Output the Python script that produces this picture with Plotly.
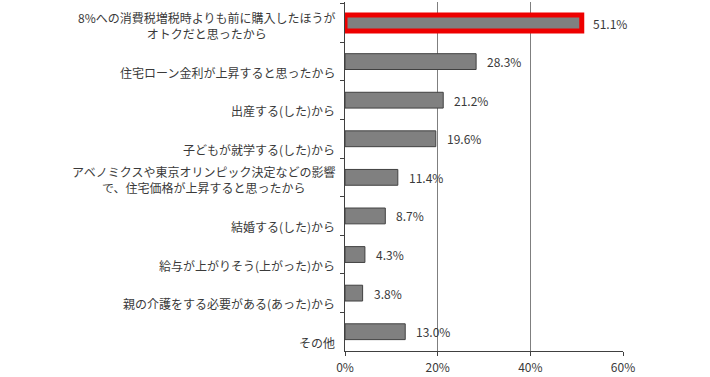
import plotly.graph_objects as go

categories = [
    "8%への消費税増税時よりも前に購入したほうが<br>オトクだと思ったから",
    "住宅ローン金利が上昇すると思ったから",
    "出産する(した)から",
    "子どもが就学する(した)から",
    "アベノミクスや東京オリンピック決定などの影響<br>で、住宅価格が上昇すると思ったから",
    "結婚する(した)から",
    "給与が上がりそう(上がった)から",
    "親の介護をする必要がある(あった)から",
    "その他",
]
values = [51.1, 28.3, 21.2, 19.6, 11.4, 8.7, 4.3, 3.8, 13.0]
value_labels = ["51.1%", "28.3%", "21.2%", "19.6%", "11.4%", "8.7%", "4.3%", "3.8%", "13.0%"]
highlight = [True] + [False] * 8

FONT = "Noto Sans CJK JP, Noto Sans, sans-serif"
TXT = "#3a3a3a"

line_colors = ["#ee0000" if h else "#404040" for h in highlight]
line_widths = [5 if h else 1 for h in highlight]

fig = go.Figure(
    go.Bar(
        x=values,
        y=categories,
        orientation="h",
        width=0.41,
        marker=dict(color="#808080", line=dict(color=line_colors, width=line_widths)),
        hoverinfo="skip",
    )
)

annotations = []
for c, v, t in zip(categories, values, value_labels):
    annotations.append(dict(
        x=v, y=c, xref="x", yref="y", text=t, showarrow=False,
        xanchor="left", yanchor="middle", xshift=9,
        font=dict(family=FONT, size=12, color=TXT),
    ))
    annotations.append(dict(
        x=0, y=c, xref="paper", yref="y", text=c, showarrow=False,
        xanchor="right", yanchor="bottom", align="center", xshift=-8, yshift=-21,
        font=dict(family=FONT, size=12, color=TXT),
    ))

fig.update_layout(
    width=710, height=377,
    margin=dict(l=345, r=87, t=2, b=20),
    paper_bgcolor="white", plot_bgcolor="white",
    showlegend=False,
    bargap=0.59,
    font=dict(family=FONT, size=12, color=TXT),
    annotations=annotations,
    xaxis=dict(
        range=[0, 60], tickvals=[0, 20, 40, 60], ticktext=["0%", "20%", "40%", "60%"],
        showgrid=True, gridcolor="#7f7f7f", gridwidth=1,
        showline=True, linecolor="#404040", linewidth=1,
        ticks="outside", ticklen=4, tickcolor="#404040",
        ticklabelstandoff=2,
        zeroline=False, fixedrange=True,
        tickfont=dict(family=FONT, size=12, color=TXT),
    ),
    yaxis=dict(
        type="category", autorange="reversed",
        showticklabels=False, tickson="boundaries",
        ticks="outside", ticklen=4, tickcolor="#404040",
        showline=True, linecolor="#404040", linewidth=1,
        showgrid=False, zeroline=False, fixedrange=True,
    ),
)

fig.write_html("out.html")
